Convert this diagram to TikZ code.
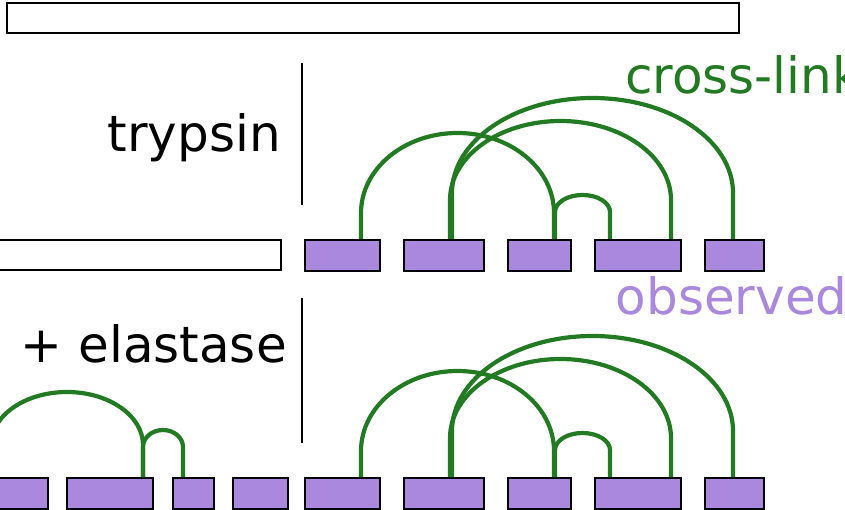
\documentclass[tikz,border=0pt]{standalone}
\usepackage{fontspec}
\setmainfont{DejaVu Sans}
\usepackage{xcolor}
\usepackage{tikz}
\definecolor{linkgreen}{RGB}{34,122,34}
\definecolor{obspurple}{RGB}{170,136,221}

\begin{document}
\begin{tikzpicture}[x=1pt, y=-1pt,
  frag/.style = {draw, fill=obspurple, line width=2.2pt, inner sep=0pt, anchor=north west, minimum height=31pt},
  chain/.style = {draw, fill=white, line width=2.2pt, inner sep=0pt, anchor=north west, minimum height=30pt},
  xlink/.style = {draw=linkgreen, line width=4.2pt},
  word/.style = {font=\fontsize{50}{60}\selectfont, inner sep=0pt},
  sep/.style = {line width=2.4pt}]
\useasboundingbox (0,0) rectangle (845,510);
\clip (0,0) rectangle (845,510);

% chains
\node[chain, minimum width=732pt] (full) at (6,2) {};
\node[chain, minimum width=300pt] (part) at (-20,239) {};

% labels
\node[word, anchor=base east] (tryp) at (281,152) {trypsin};
\node[word, anchor=base east] (elas) at (287,362) {+ elastase};
\node[word, anchor=base west, text=linkgreen] (xl) at (625,94) {cross-link};
\node[word, anchor=base west, text=obspurple] (obs) at (615.5,315) {observed};

\draw[sep] (302,63) -- (302,205);
\draw[sep] (302,298) -- (302,443);

% trypsin peptides
\node[frag, minimum width=75pt] (t1) at (304,239) {};
\node[frag, minimum width=80pt] (t2) at (403,239) {};
\node[frag, minimum width=63pt] (t3) at (507,239) {};
\node[frag, minimum width=86pt] (t4) at (594,239) {};
\node[frag, minimum width=59pt] (t5) at (704,239) {};

\draw[xlink] ([xshift=57pt]t1.north west) -- ++(0,-26) arc[start angle=180, end angle=360, x radius=96.5, y radius=80] -- ([xshift=47pt]t3.north west);
\draw[xlink] ([xshift=47pt]t2.north west) -- ++(0,-39) arc[start angle=180, end angle=360, x radius=110.5, y radius=79] -- ([xshift=77pt]t4.north west);
\draw[xlink] ([xshift=49pt]t2.north west) -- ++(0,-46) arc[start angle=180, end angle=360, x radius=140.5, y radius=95] -- ([xshift=29pt]t5.north west);
\draw[xlink] ([xshift=48pt]t3.north west) -- ++(0,-27) arc[start angle=180, end angle=360, x radius=27.5, y radius=17] -- ([xshift=16pt]t4.north west);

% elastase peptides
\node[frag, minimum width=77pt] (e1) at (-30,477) {};
\node[frag, minimum width=86pt] (e2) at (66,477) {};
\node[frag, minimum width=41pt] (e3) at (172,477) {};
\node[frag, minimum width=55pt] (e4) at (232,477) {};
\node[frag, minimum width=75pt] (e5) at (304,477) {};
\node[frag, minimum width=80pt] (e6) at (403,477) {};
\node[frag, minimum width=63pt] (e7) at (507,477) {};
\node[frag, minimum width=86pt] (e8) at (594,477) {};
\node[frag, minimum width=59pt] (e9) at (704,477) {};

\draw[xlink] ([xshift=21pt]e1.north west) -- ++(0,-32) arc[start angle=180, end angle=360, x radius=76, y radius=53] -- ([xshift=77pt]e2.north west);
\draw[xlink] ([xshift=77pt]e2.north west) -- ++(0,-30) arc[start angle=180, end angle=360, x radius=20, y radius=17] -- ([xshift=11pt]e3.north west);
\draw[xlink] ([xshift=57pt]e5.north west) -- ++(0,-26) arc[start angle=180, end angle=360, x radius=96.5, y radius=80] -- ([xshift=47pt]e7.north west);
\draw[xlink] ([xshift=47pt]e6.north west) -- ++(0,-39) arc[start angle=180, end angle=360, x radius=110.5, y radius=79] -- ([xshift=77pt]e8.north west);
\draw[xlink] ([xshift=49pt]e6.north west) -- ++(0,-46) arc[start angle=180, end angle=360, x radius=140.5, y radius=95] -- ([xshift=29pt]e9.north west);
\draw[xlink] ([xshift=48pt]e7.north west) -- ++(0,-27) arc[start angle=180, end angle=360, x radius=27.5, y radius=17] -- ([xshift=16pt]e8.north west);
\end{tikzpicture}
\end{document}
